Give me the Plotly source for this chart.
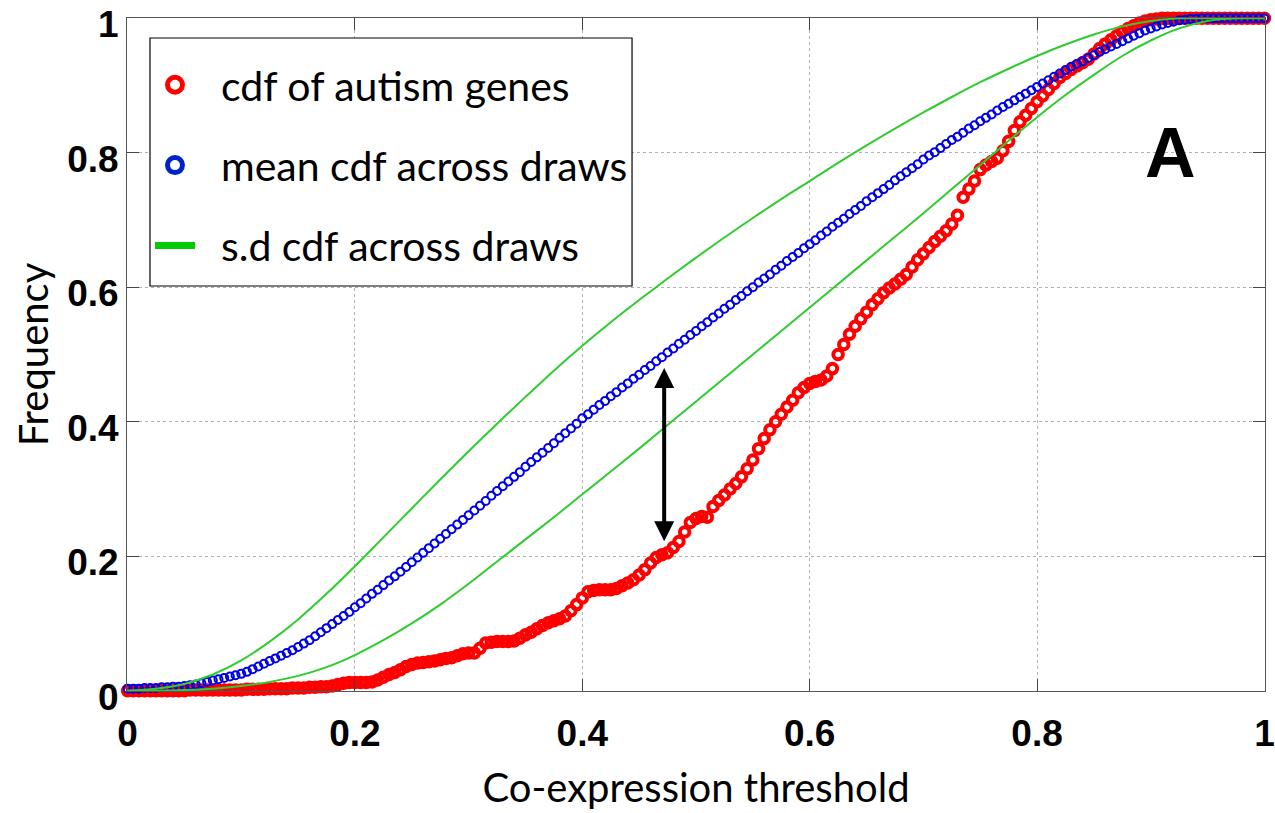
import plotly.graph_objects as go

# ---------------- data ----------------
thresholds = [round(i * 0.005, 3) for i in range(201)]

mean_cdf = [
    0.003, 0.003, 0.003, 0.004, 0.004, 0.004, 0.005, 0.005, 0.006, 0.006,
    0.007, 0.008, 0.009, 0.011, 0.013, 0.015, 0.017, 0.019, 0.021, 0.023,
    0.025, 0.028, 0.032, 0.036, 0.040, 0.044, 0.048, 0.052, 0.056, 0.060,
    0.065, 0.070, 0.075, 0.081, 0.087, 0.093, 0.099, 0.105, 0.111, 0.117,
    0.124, 0.130, 0.137, 0.144, 0.150, 0.157, 0.164, 0.170, 0.177, 0.184,
    0.191, 0.198, 0.205, 0.212, 0.219, 0.226, 0.233, 0.240, 0.247, 0.254,
    0.261, 0.268, 0.275, 0.282, 0.290, 0.297, 0.304, 0.311, 0.318, 0.325,
    0.333, 0.340, 0.347, 0.354, 0.361, 0.368, 0.376, 0.383, 0.390, 0.397,
    0.405, 0.411, 0.418, 0.425, 0.431, 0.438, 0.444, 0.451, 0.457, 0.464,
    0.470, 0.477, 0.483, 0.490, 0.496, 0.503, 0.509, 0.516, 0.522, 0.529,
    0.535, 0.542, 0.548, 0.555, 0.561, 0.568, 0.574, 0.581, 0.587, 0.594,
    0.600, 0.607, 0.613, 0.619, 0.626, 0.632, 0.639, 0.645, 0.651, 0.658,
    0.664, 0.670, 0.677, 0.683, 0.690, 0.696, 0.702, 0.709, 0.715, 0.721,
    0.728, 0.734, 0.740, 0.746, 0.752, 0.759, 0.765, 0.771, 0.777, 0.783,
    0.790, 0.796, 0.801, 0.807, 0.813, 0.819, 0.824, 0.830, 0.836, 0.841,
    0.847, 0.852, 0.857, 0.863, 0.868, 0.873, 0.878, 0.883, 0.888, 0.893,
    0.898, 0.903, 0.908, 0.913, 0.918, 0.923, 0.928, 0.932, 0.936, 0.941,
    0.945, 0.950, 0.954, 0.958, 0.962, 0.966, 0.970, 0.974, 0.978, 0.982,
    0.985, 0.988, 0.991, 0.993, 0.995, 0.997, 0.998, 0.999, 0.999, 1.000,
    1.000, 1.000, 1.000, 1.000, 1.000, 1.000, 1.000, 1.000, 1.000, 1.000,
    1.000,
]

autism_cdf = [
    0.000, 0.000, 0.000, 0.000, 0.000, 0.000, 0.000, 0.000, 0.000, 0.000,
    0.000, 0.001, 0.001, 0.001, 0.001, 0.001, 0.001, 0.001, 0.001, 0.001,
    0.001, 0.002, 0.002, 0.002, 0.002, 0.003, 0.003, 0.003, 0.003, 0.004,
    0.004, 0.004, 0.005, 0.005, 0.006, 0.006, 0.007, 0.009, 0.011, 0.012,
    0.012, 0.012, 0.012, 0.013, 0.016, 0.020, 0.024, 0.027, 0.031, 0.036,
    0.039, 0.041, 0.042, 0.043, 0.044, 0.046, 0.048, 0.049, 0.052, 0.055,
    0.056, 0.056, 0.063, 0.071, 0.072, 0.073, 0.073, 0.073, 0.074, 0.078,
    0.083, 0.087, 0.092, 0.097, 0.101, 0.104, 0.107, 0.111, 0.119, 0.128,
    0.138, 0.147, 0.149, 0.150, 0.150, 0.150, 0.152, 0.156, 0.160, 0.165,
    0.172, 0.180, 0.190, 0.198, 0.202, 0.205, 0.213, 0.222, 0.236, 0.250,
    0.256, 0.259, 0.258, 0.274, 0.283, 0.291, 0.300, 0.308, 0.318, 0.330,
    0.343, 0.360, 0.375, 0.388, 0.400, 0.411, 0.422, 0.432, 0.443, 0.451,
    0.457, 0.460, 0.462, 0.468, 0.479, 0.500, 0.515, 0.530, 0.542, 0.553,
    0.563, 0.574, 0.583, 0.592, 0.599, 0.605, 0.612, 0.619, 0.630, 0.641,
    0.650, 0.659, 0.668, 0.676, 0.684, 0.694, 0.707, 0.734, 0.746, 0.758,
    0.775, 0.782, 0.787, 0.792, 0.803, 0.817, 0.833, 0.846, 0.856, 0.866,
    0.876, 0.885, 0.894, 0.903, 0.912, 0.918, 0.924, 0.929, 0.934, 0.939,
    0.947, 0.955, 0.962, 0.968, 0.974, 0.980, 0.985, 0.989, 0.993, 0.996,
    0.998, 0.999, 1.000, 1.000, 1.000, 1.000, 1.000, 1.000, 1.000, 1.000,
    1.000, 1.000, 1.000, 1.000, 1.000, 1.000, 1.000, 1.000, 1.000, 1.000,
    1.000,
]

sd_thresholds = [round(i * 0.025, 3) for i in range(41)]

sd_upper = [
    0.000, 0.003, 0.010, 0.024, 0.045, 0.073, 0.106, 0.144, 0.185, 0.228,
    0.271, 0.314, 0.356, 0.397, 0.437, 0.476, 0.513, 0.548, 0.581, 0.613,
    0.644, 0.674, 0.703, 0.731, 0.758, 0.785, 0.811, 0.836, 0.860, 0.883,
    0.905, 0.925, 0.944, 0.961, 0.976, 0.988, 0.996, 1.000, 1.000, 1.000,
    1.000,
]

sd_lower = [
    0.000, 0.000, 0.001, 0.003, 0.007, 0.013, 0.022, 0.035, 0.053, 0.075,
    0.100, 0.128, 0.159, 0.192, 0.225, 0.258, 0.292, 0.326, 0.360, 0.395,
    0.430, 0.465, 0.500, 0.535, 0.570, 0.605, 0.640, 0.675, 0.710, 0.746,
    0.782, 0.818, 0.853, 0.886, 0.916, 0.944, 0.967, 0.985, 0.996, 1.000,
    1.000,
]

tick_values = [0, 0.2, 0.4, 0.6, 0.8, 1]
tick_labels = ["0", "0.2", "0.4", "0.6", "0.8", "1"]

legend_names = ["cdf of autism genes", "mean cdf across draws", "s.d cdf across draws"]

arrow_x = 0.472
arrow_top = 0.48
arrow_bottom = 0.22

panel_label = "A"

# ---------------- style ----------------
RED = "#ff0000"
BLUE = "#0000e6"
GREEN = "#2ecc2e"
TEXT_FONT = "Lato"
TICK_FONT = "Liberation Sans"
PAD = "\u00a0\u00a0"

fig = go.Figure()

fig.add_trace(go.Scatter(
    x=thresholds, y=autism_cdf, mode="markers", showlegend=False,
    marker=dict(symbol="circle-open", size=9.5, color=RED, line=dict(width=4, color=RED)),
    cliponaxis=False,
))
fig.add_trace(go.Scatter(
    x=thresholds, y=mean_cdf, mode="markers", showlegend=False,
    marker=dict(symbol="circle-open", size=8, color=BLUE, line=dict(width=2, color=BLUE)),
    cliponaxis=False,
))
fig.add_trace(go.Scatter(
    x=sd_thresholds, y=sd_upper, mode="lines", showlegend=False,
    line=dict(color=GREEN, width=2, shape="spline", smoothing=1),
))
fig.add_trace(go.Scatter(
    x=sd_thresholds, y=sd_lower, mode="lines", showlegend=False,
    line=dict(color=GREEN, width=2, shape="spline", smoothing=1),
))

# legend entries
fig.add_trace(go.Scatter(
    x=[None], y=[None], mode="markers", name=PAD + legend_names[0], legendgroup="a",
    marker=dict(symbol="circle-open", size=15, color=RED, line=dict(width=6, color=RED)),
))
fig.add_trace(go.Scatter(
    x=[None], y=[None], mode="markers", name=PAD + legend_names[1], legendgroup="b",
    marker=dict(symbol="circle-open", size=15, color="#0022cc", line=dict(width=6, color="#0022cc")),
))
fig.add_trace(go.Scatter(
    x=[None], y=[None], mode="lines", name=PAD + legend_names[2], legendgroup="c",
    line=dict(color="#00cc00", width=7),
))

# legend frame (white box with black border)
fig.add_shape(
    type="rect", xref="paper", yref="paper",
    x0=0.0202, x1=0.4438, y0=0.6018, y1=0.9703,
    line=dict(color="black", width=1.2), fillcolor="white", layer="above",
)

fig.add_annotation(
    x=arrow_x, y=arrow_top, ax=arrow_x, ay=arrow_bottom,
    xref="x", yref="y", axref="x", ayref="y",
    text="", showarrow=True, arrowside="end+start",
    arrowhead=2, startarrowhead=2, arrowsize=1.0, startarrowsize=1.0,
    arrowwidth=4, arrowcolor="black", standoff=0, startstandoff=0,
)

fig.add_annotation(
    x=0.917, y=0.800, xref="x", yref="y", text="<b>" + panel_label + "</b>",
    showarrow=False, font=dict(family="Liberation Sans", size=70, color="black"),
)

axis_common = dict(
    range=[-0.0005, 1.0005], tickvals=tick_values, ticktext=tick_labels,
    ticks="inside", ticklen=12, tickcolor="#444", tickwidth=1,
    showline=True, linecolor="#555", linewidth=1, mirror="ticks",
    showgrid=True, gridcolor="#b0b0b0", griddash="dot", gridwidth=1,
    zeroline=False, ticklabeloverflow="allow",
    tickfont=dict(family=TICK_FONT, size=37, color="black", weight="bold"),
)

fig.update_xaxes(**axis_common, ticklabelstandoff=10,
                 title=dict(text="Co-expression threshold", standoff=20,
                            font=dict(family=TEXT_FONT, size=40, color="black")))
fig.update_yaxes(**axis_common, ticklabelstandoff=0, ticklabelshift=6,
                 title=dict(text="Frequency", standoff=6,
                            font=dict(family=TEXT_FONT, size=40, color="black")))

fig.update_layout(
    width=1275, height=813,
    margin=dict(l=127, r=10, t=18, b=122, autoexpand=False),
    plot_bgcolor="white", paper_bgcolor="white",
    legend=dict(
        x=0.0202, y=0.950, xanchor="left", yanchor="top",
        bgcolor="rgba(0,0,0,0)", borderwidth=0,
        font=dict(family=TEXT_FONT, size=41, color="black"),
        traceorder="grouped", tracegroupgap=24, itemwidth=40,
    ),
)

fig.write_html("out.html")
